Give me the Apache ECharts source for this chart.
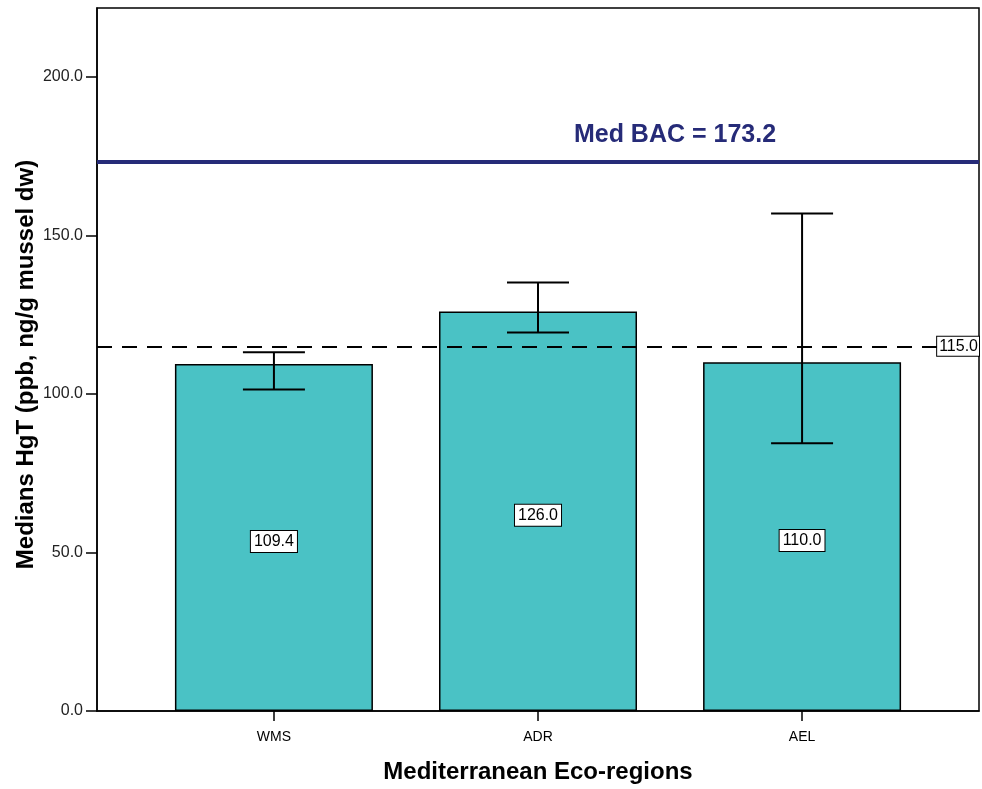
<!DOCTYPE html>
<html><head><meta charset="utf-8">
<script src="https://cdn.jsdelivr.net/npm/echarts@6/dist/echarts.min.js"></script>
<style>html,body{margin:0;padding:0;background:#fff}#c{width:982px;height:789px}</style>
</head><body><div id="c"></div>
<script>
var categories = ['WMS', 'ADR', 'AEL'];
var medians = [109.4, 126.0, 110.0];
var errLow = [101.4, 119.4, 84.4];
var errHigh = [113.1, 135.1, 156.9];
var yTicks = [0, 50, 100, 150, 200];
var refLine = 115.0;
var bacValue = 173.2;
var bacLabel = 'Med BAC = 173.2';

var positions = categories.map(function (c, i) { return i + 1; });
var barData = medians.map(function (v, i) { return [positions[i], v]; });
var errData = errLow.map(function (v, i) { return [positions[i], v, errHigh[i]]; });

var chart = echarts.init(document.getElementById('c'));
var font = 'Liberation Sans, Arial, sans-serif';
chart.setOption({
  animation: false,
  grid: { left: 97, right: 3, top: 8, bottom: 76, show: true, borderColor: '#000', borderWidth: 1.5, backgroundColor: 'transparent' },
  xAxis: {
    type: 'value', min: 0.33, max: 3.67,
    name: 'Mediterranean Eco-regions', nameLocation: 'middle', nameGap: 49,
    nameTextStyle: { fontFamily: font, fontWeight: 'bold', fontSize: 24, color: '#000' },
    axisLine: { show: true, lineStyle: { color: '#000', width: 1.5 } },
    axisTick: { show: true, customValues: positions, length: 10, lineStyle: { color: '#000', width: 1.5 } },
    axisLabel: { customValues: positions, margin: 19, fontFamily: font, fontSize: 14, color: '#000',
      formatter: function (v) { return categories[Math.round(v) - 1] || ''; } },
    splitLine: { show: false }
  },
  yAxis: {
    type: 'value', min: 0, max: 221.7,
    name: 'Medians HgT (ppb, ng/g mussel dw)', nameLocation: 'middle', nameGap: 59, nameMoveOverlap: false,
    nameTextStyle: { fontFamily: font, fontWeight: 'bold', fontSize: 24, color: '#000', padding: [0, 10, 0, 0] },
    axisLine: { show: true, lineStyle: { color: '#000', width: 1.5 } },
    axisTick: { show: true, customValues: yTicks, length: 11, lineStyle: { color: '#000', width: 1.5 } },
    axisLabel: { customValues: yTicks, margin: 14, fontFamily: font, fontSize: 16, color: '#222',
      formatter: function (v) { return v.toFixed(1); } },
    splitLine: { show: false }
  },
  series: [
    {
      type: 'bar', data: barData, barWidth: 198,
      itemStyle: { color: '#4AC2C5', borderColor: '#000', borderWidth: 1.5 },
      label: { show: true, position: 'inside', offset: [0, 4], formatter: function (p) { return p.value[1].toFixed(1); },
        fontFamily: font, fontSize: 16, color: '#000', backgroundColor: '#fff', borderColor: '#000', borderWidth: 1, padding: [3, 3, 2, 3] },
      markLine: {
        silent: true, symbol: 'none',
        data: [
          { yAxis: refLine, lineStyle: { color: '#000', width: 2, type: [15, 10] },
            label: { show: true, position: 'insideEnd', distance: 0, formatter: refLine.toFixed(1),
              fontFamily: font, fontSize: 16, color: '#000', backgroundColor: '#fff', borderColor: '#000', borderWidth: 1, padding: [2, 1, 1, 2] } },
          { yAxis: bacValue, lineStyle: { color: '#262B78', width: 4, type: 'solid' },
            label: { show: true, position: 'insideMiddleTop', distance: 14, offset: [137, 0], formatter: bacLabel,
              fontFamily: font, fontSize: 25, fontWeight: 'bold', color: '#262B78' } }
        ]
      },
      z: 2
    },
    {
      type: 'custom', data: errData, z: 5,
      renderItem: function (params, api) {
        var x = api.value(0);
        var lo = api.coord([x, api.value(1)]);
        var hi = api.coord([x, api.value(2)]);
        var cap = 31;
        var st = { stroke: '#000', lineWidth: 2 };
        return { type: 'group', children: [
          { type: 'line', shape: { x1: lo[0], y1: lo[1], x2: hi[0], y2: hi[1] }, style: st },
          { type: 'line', shape: { x1: lo[0] - cap, y1: lo[1], x2: lo[0] + cap, y2: lo[1] }, style: st },
          { type: 'line', shape: { x1: hi[0] - cap, y1: hi[1], x2: hi[0] + cap, y2: hi[1] }, style: st }
        ] };
      }
    }
  ]
});
</script></body></html>
